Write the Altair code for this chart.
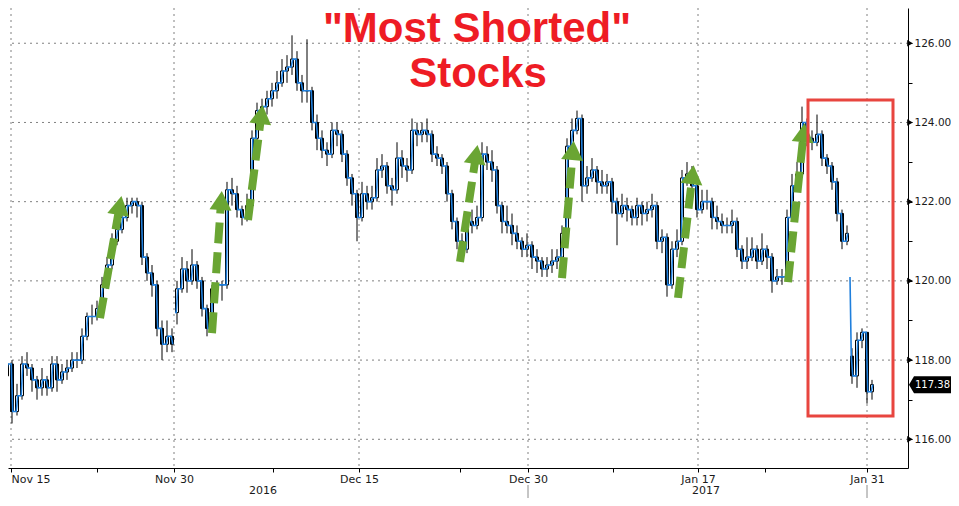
import math
import altair as alt
import pandas as pd

# ---------------- data ----------------
closes = [
    117.6, 117.9, 116.7, 117.1, 117.9, 117.8, 117.5, 117.3, 117.5, 117.3,
    117.9, 117.5, 117.7, 117.8, 118.0, 118.0, 118.6, 119.1, 119.1, 119.3,
    119.9, 120.4, 121.0, 121.3, 121.6, 121.9, 122.0, 121.9, 120.6, 120.2,
    119.9, 118.8, 118.4, 118.6, 118.4, 119.8, 120.3, 120.0, 120.4, 120.0,
    119.3, 118.8, 119.8, 119.9, 119.9, 122.3, 122.2, 121.8, 121.6, 121.9,
    123.6, 124.3, 124.4, 124.6, 124.8, 125.0, 125.3, 125.4, 125.6, 125.0,
    124.8, 124.8, 124.0, 123.6, 123.3, 123.2, 123.8, 123.7, 123.2, 122.6,
    122.2, 121.6, 122.2, 122.0, 122.1, 122.8, 122.9, 122.4, 122.3, 123.1,
    122.9, 122.8, 123.8, 123.7, 123.8, 123.7, 123.2, 123.1, 122.9, 122.2,
    121.5, 121.0, 120.8, 121.5, 121.4, 121.6, 123.2, 123.0, 122.8, 121.9,
    121.5, 121.4, 121.2, 121.0, 120.8, 120.9, 120.6, 120.5, 120.3, 120.4,
    120.5, 120.6, 121.2, 123.4, 123.8, 124.1, 122.4, 122.6, 122.8, 122.5,
    122.4, 122.5, 122.0, 121.7, 121.9, 121.8, 121.6, 121.9, 121.7, 121.8,
    121.9, 121.0, 121.1, 119.9, 120.8, 121.0, 122.6, 122.7, 122.4, 121.8,
    122.0, 122.0, 121.6, 121.5, 121.4, 121.4, 121.5, 120.8, 120.5, 120.6,
    120.8, 120.5, 120.8, 120.6, 120.0, 120.1, 120.1, 121.6, 122.4, 122.7,
    124.0, 123.6, 123.5, 123.7, 123.1, 122.9, 122.5, 121.7, 121.0, 121.2,
    117.6, 118.5, 118.7, 117.2, 117.38,
]
highs = [
    118.0, 118.2, 118.0, 117.4, 118.1, 118.2, 117.9, 117.6, 117.8, 117.6,
    118.1, 118.1, 117.9, 118.0, 118.2, 118.2, 118.8, 119.2, 119.4, 119.5,
    120.1, 120.6, 121.2, 121.5, 121.8, 122.1, 122.1, 122.1, 122.0, 120.7,
    120.4, 120.0, 119.0, 119.0, 118.8, 120.0, 120.6, 120.5, 120.8, 120.5,
    120.1, 119.4, 119.9, 120.0, 120.0, 122.5, 122.6, 122.4, 121.9, 122.2,
    123.8, 124.5, 124.6, 124.8, 125.0, 125.3, 125.6, 125.7, 126.2, 125.8,
    125.2, 126.1, 124.9, 124.2, 123.8, 123.5, 124.0, 124.0, 123.8, 123.3,
    122.7, 122.3, 122.5, 122.4, 122.4, 123.1, 123.2, 123.0, 122.6, 123.5,
    123.3, 123.1, 124.1, 124.0, 124.0, 124.1, 123.8, 123.4, 123.2, 123.0,
    122.3, 121.6, 121.2, 121.7, 121.8, 121.9, 123.5, 123.4, 123.3, 122.9,
    122.0, 121.9, 121.7, 121.4, 121.1, 121.2, 121.0, 120.8, 120.6, 120.6,
    120.8, 120.8, 121.4, 123.6, 124.1, 124.3, 124.2, 122.9, 123.1, 122.9,
    122.8, 122.7, 122.6, 122.1, 122.2, 122.1, 121.9, 122.1, 122.0, 122.0,
    122.2, 122.0, 121.3, 121.2, 121.0, 121.3, 122.8, 123.0, 122.9, 122.5,
    122.3, 122.3, 122.1, 121.9, 121.7, 121.6, 121.8, 121.6, 120.9, 121.1,
    121.1, 120.9, 121.2, 120.9, 120.7, 120.3, 120.3, 121.8, 122.7, 123.0,
    124.4, 124.1, 123.8, 124.2, 123.8, 123.2, 123.0, 122.6, 121.8, 121.4,
    118.3, 118.7, 118.8, 118.7, 117.5,
]
lows = [
    117.0, 117.4, 116.4, 116.6, 117.0, 117.6, 117.2, 117.0, 117.1, 117.1,
    117.2, 117.2, 117.4, 117.5, 117.7, 117.8, 117.9, 118.5, 118.9, 119.0,
    119.2, 119.8, 120.3, 120.9, 121.2, 121.5, 121.7, 121.6, 120.4, 120.0,
    119.6, 118.6, 118.0, 118.2, 118.2, 118.9, 119.7, 119.7, 119.9, 119.8,
    119.1, 118.6, 118.7, 119.6, 119.5, 119.8, 121.9, 121.6, 121.4, 121.5,
    121.8, 123.4, 124.0, 124.2, 124.4, 124.6, 124.9, 125.0, 125.2, 124.8,
    124.5, 124.5, 123.8, 123.3, 123.1, 122.9, 123.1, 123.4, 123.0, 122.4,
    121.9, 121.0, 121.5, 121.8, 121.8, 122.0, 122.6, 122.2, 121.9, 122.2,
    122.6, 122.5, 122.7, 123.4, 123.5, 123.5, 123.0, 122.9, 122.7, 122.0,
    121.3, 120.8, 120.6, 120.7, 121.2, 121.3, 121.5, 122.8, 122.5, 121.7,
    121.2, 121.2, 120.9, 120.8, 120.6, 120.6, 120.3, 120.2, 120.1, 120.1,
    120.2, 120.3, 120.4, 121.1, 123.3, 123.7, 122.0, 122.2, 122.5, 122.2,
    122.2, 122.2, 121.7, 120.9, 121.6, 121.5, 121.4, 121.4, 121.4, 121.5,
    121.6, 120.8, 120.7, 119.6, 119.8, 120.6, 120.9, 122.4, 122.2, 121.6,
    121.7, 121.8, 121.3, 121.3, 121.2, 121.2, 121.2, 120.6, 120.3, 120.3,
    120.5, 120.3, 120.4, 120.3, 119.7, 119.9, 119.9, 120.0, 121.5, 122.3,
    122.6, 123.4, 123.3, 123.4, 122.9, 122.7, 122.3, 121.5, 120.8, 120.9,
    117.4, 117.3, 118.3, 116.9, 117.0,
]
first_open = 117.2
gap_opens = {35: 119.2, 170: 118.1}        # bar opens after a session gap
gap_line_starts = {35: 119.2, 170: 120.1}  # where the blue line restarts

x_major = [1.8, 34.4, 71.4, 105.2, 139.2, 173.0]
x_major_labels = ["Nov 15", "Nov 30", "Dec 15", "Dec 30", "Jan 17", "Jan 31"]
x_minor = [19.0, 54.2, 91.6, 122.2, 152.6]
year_pos = [52.2, 140.8]
year_labels = ["2016", "2017"]
separators = [105.2, 173.0]
y_ticks = list(range(116, 127))
y_grid = [116, 118, 120, 122, 124, 126]
last_price = 117.38

# arrows: start (index, price) -> tip (index, price)
arrow_start_x = [19.6, 42.0, 49.2, 91.6, 112.0, 135.2, 157.2]
arrow_start_y = [119.06, 118.68, 121.54, 120.48, 120.07, 119.57, 119.97]
arrow_tip_x = [24.0, 44.0, 52.2, 95.2, 114.4, 138.4, 160.6]
arrow_tip_y = [122.22, 122.35, 124.52, 123.51, 123.61, 123.00, 124.06]

box_x = [161.2, 178.2]
box_y = [116.59, 124.57]

title_lines = ['"Most Shorted"', "Stocks"]

# ---------------- layout ----------------
W, H = 900, 460
X_DOM = [1.2, 181.2]
Y_DOM = [115.275, 126.89]
PX_X = W / (X_DOM[1] - X_DOM[0])
PX_Y = H / (Y_DOM[1] - Y_DOM[0])
FONT = "DejaVu Sans"
BLUE = "#1f7fdc"
GREEN = "#6aa533"
RED_T = "#ee1c24"
RED_B = "#e8453f"

# ---------------- tables ----------------
rows, line_rows = [], []
seg, order = 0, 0
for i, c in enumerate(closes):
    if i in gap_opens:
        o = gap_opens[i]
        seg += 1
        line_rows.append({"i": i - 0.4, "v": gap_line_starts[i], "seg": seg, "ord": order})
        order += 1
    elif i == 0:
        o = first_open
    else:
        o = closes[i - 1]
    hi = max(highs[i], o, c)
    lo = min(lows[i], o, c)
    rows.append({"i": i, "o": o, "c": c, "hi": hi, "lo": lo,
                 "fillc": "white" if c >= o else "black"})
    line_rows.append({"i": i - 0.15, "v": o, "seg": seg, "ord": order})
    order += 1
    line_rows.append({"i": i + 0.15, "v": c, "seg": seg, "ord": order})
    order += 1
bars = pd.DataFrame(rows)
line_df = pd.DataFrame(line_rows)

arr_rows = []
HEAD_R = 11.0
for sx, sy, tx, ty in zip(arrow_start_x, arrow_start_y, arrow_tip_x, arrow_tip_y):
    dx = (tx - sx) * PX_X
    dy = (ty - sy) * PX_Y
    L = math.hypot(dx, dy)
    ux, uy = dx / L, dy / L
    base_d = 1.6 * HEAD_R
    cen_d = 1.155 * HEAD_R
    arr_rows.append({
        "sx": sx, "sy": sy,
        "bx": tx - ux * base_d / PX_X, "by": ty - uy * base_d / PX_Y,
        "cx": tx - ux * cen_d / PX_X, "cy": ty - uy * cen_d / PX_Y,
        "ang": math.degrees(math.atan2(dx, dy)),
    })
arr_df = pd.DataFrame(arr_rows)

xs = alt.Scale(domain=X_DOM, nice=False, zero=False, padding=0)
ys = alt.Scale(domain=Y_DOM, nice=False, zero=False, padding=0)

expr_parts = " : ".join(
    f"datum.value == {v} ? '{t}'" for v, t in zip(x_major, x_major_labels)
)
x_axis = alt.Axis(
    values=x_major + x_minor, labelExpr=expr_parts + " : ''", grid=False,
    domainColor="black", tickColor="black", tickSize=4, labelPadding=1,
    labelFont=FONT, labelFontSize=11, labelColor="#1a1a1a", labelFlush=6,
    labelOverlap=False, labelAngle=0, title=None,
)
y_axis = alt.Axis(
    orient="right", values=y_ticks,
    labelExpr="datum.value % 2 == 0 ? format(datum.value, '.2f') : ''",
    grid=False, domainColor="black", tickColor="black", tickSize=4,
    labelPadding=2, labelFont=FONT, labelFontSize=10.5, labelColor="#1a1a1a",
    labelOverlap=False, title=None,
)


def X(f):
    return alt.X(f, type="quantitative", scale=xs, axis=x_axis)


def Y(f):
    return alt.Y(f, type="quantitative", scale=ys, axis=y_axis)


grid_style = dict(color="#808080", strokeWidth=1, strokeDash=[2, 4])

hgrid = alt.Chart(pd.DataFrame({"v": y_grid})).mark_rule(**grid_style).encode(y=Y("v"))
vgrid = alt.Chart(pd.DataFrame({"i": x_major})).mark_rule(**grid_style).encode(x=X("i"))

wicks = alt.Chart(bars).mark_rule(color="black", strokeWidth=1, clip=True).encode(
    x=X("i"), y=Y("lo"), y2="hi"
)
bodies = alt.Chart(bars).mark_bar(size=3, stroke="black", strokeWidth=1, clip=True).encode(
    x=X("i"), y=Y("o"), y2="c", fill=alt.Fill("fillc:N", scale=None)
)
line = alt.Chart(line_df).mark_line(color=BLUE, strokeWidth=1.6, clip=True).encode(
    x=X("i"), y=Y("v"), detail="seg:N", order="ord:Q"
)

shafts = alt.Chart(arr_df).mark_rule(
    color=GREEN, strokeWidth=8, strokeDash=[21, 9], strokeCap="butt"
).encode(x=X("sx"), y=Y("sy"), x2="bx", y2="by")
heads = alt.Chart(arr_df).mark_point(
    shape="triangle-up", filled=True, opacity=1, color=GREEN, size=(2 * HEAD_R) ** 2
).encode(x=X("cx"), y=Y("cy"), angle=alt.Angle("ang:Q", scale=None))

box = alt.Chart(pd.DataFrame({"x1": [box_x[0]], "x2": [box_x[1]],
                              "y1": [box_y[0]], "y2": [box_y[1]]})).mark_rect(
    fillOpacity=0, stroke=RED_B, strokeWidth=3
).encode(x=X("x1"), x2="x2", y=Y("y1"), y2="y2")

tri = alt.Chart(pd.DataFrame({"xe": [X_DOM[1]] * len(y_grid), "v": y_grid})).mark_point(
    shape="triangle-right", filled=True, opacity=1, color="black", size=42, xOffset=2
).encode(x=X("xe"), y=Y("v"))

tag_df = pd.DataFrame({"xe": [X_DOM[1]], "v": [last_price],
                       "t": [f"{last_price:.2f}"]})
tag = alt.Chart(tag_df).mark_point(
    shape="M0,0 L5,-8.5 L42,-8.5 L42,8.5 L5,8.5 Z", size=4, filled=True,
    opacity=1, color="black", xOffset=1
).encode(x=X("xe"), y=Y("v"))
tag_text = alt.Chart(tag_df).mark_text(
    color="white", font=FONT, fontSize=10, align="center", baseline="middle",
    xOffset=24.5, yOffset=0.5
).encode(x=X("xe"), y=Y("v"), text="t:N")

title1 = alt.Chart(pd.DataFrame({"t": [title_lines[0]]})).mark_text(
    font="Liberation Sans", fontWeight="bold", fontSize=42, color=RED_T,
    align="center", baseline="alphabetic"
).encode(x=alt.value(469), y=alt.value(34), text="t:N")
title2 = alt.Chart(pd.DataFrame({"t": [title_lines[1]]})).mark_text(
    font="Liberation Sans", fontWeight="bold", fontSize=42, color=RED_T,
    align="center", baseline="alphabetic"
).encode(x=alt.value(470), y=alt.value(79), text="t:N")

years = alt.Chart(pd.DataFrame({"i": year_pos, "t": year_labels})).mark_text(
    font=FONT, fontSize=11, color="#1a1a1a", align="center", baseline="alphabetic"
).encode(x=X("i"), y=alt.value(486), text="t:N")

seps = alt.Chart(pd.DataFrame({"i": separators})).mark_rule(
    color="#8c8c8c", strokeWidth=1
).encode(x=X("i"), y=alt.value(477), y2=alt.value(490))

chart = alt.layer(
    hgrid, vgrid, wicks, bodies, line, shafts, heads, box, tri, tag, tag_text,
    title1, title2, years, seps
).properties(
    width=W, height=H,
    autosize=alt.AutoSizeParams(type="none"),
    padding={"left": 0, "top": 0, "right": 43, "bottom": 30},
    background="white",
).configure_view(stroke=None)

chart.save("out.html", embed_options={"renderer": "svg", "actions": False})
